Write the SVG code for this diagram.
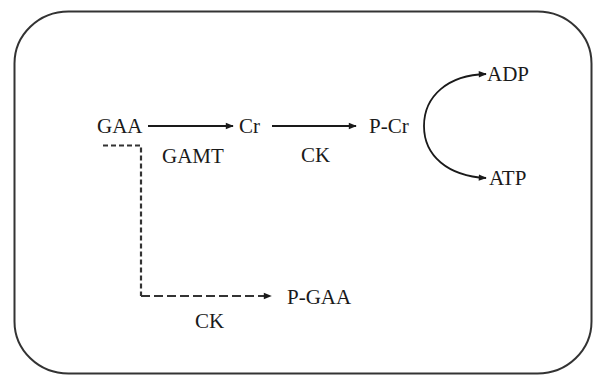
<svg xmlns="http://www.w3.org/2000/svg" width="600" height="375" viewBox="0 0 600 375">
  <style>
    .lbl { font-family: "Liberation Serif", "Times New Roman", serif; font-size: 21px; fill: #1a1a1a; }
    .line { fill: none; stroke: #1a1a1a; stroke-width: 1.8; }
    .dash { fill: none; stroke: #333; stroke-width: 2.2; }
  </style>
  <defs>
    <marker id="arrow" viewBox="0 0 10 10" refX="9" refY="5" markerWidth="10" markerHeight="8" markerUnits="userSpaceOnUse" orient="auto">
      <path d="M0,1 L10,5 L0,9 z" fill="#1a1a1a"/>
    </marker>
  </defs>
  <rect width="600" height="375" fill="#fff"/>
  <!-- cell boundary -->
  <rect x="14.5" y="11.5" width="577" height="362" rx="54" ry="52" fill="none" stroke="#333" stroke-width="2"/>

  <g id="GAA"><text class="lbl" x="97" y="133">GAA</text></g>
  <g id="Cr"><text class="lbl" x="239" y="133">Cr</text></g>
  <g id="PCr"><text class="lbl" x="369" y="133">P-Cr</text></g>
  <g id="ADP"><text class="lbl" x="487" y="81">ADP</text></g>
  <g id="ATP"><text class="lbl" x="489" y="185">ATP</text></g>
  <g id="PGAA"><text class="lbl" x="287" y="304">P-GAA</text></g>
  <g id="GAMT"><text class="lbl" x="162" y="163">GAMT</text></g>
  <g id="CK1"><text class="lbl" x="301" y="162">CK</text></g>
  <g id="CK2"><text class="lbl" x="195" y="328">CK</text></g>

  <g id="connectors">
    <line class="line" x1="148" y1="126" x2="233" y2="126" marker-end="url(#arrow)"/>
    <line class="line" x1="272" y1="126" x2="356" y2="126" marker-end="url(#arrow)"/>
    <!-- coupled ADP / ATP arc, split at its leftmost point -->
    <path class="line" d="M424,126 C424,96 448,75 486,74" marker-end="url(#arrow)"/>
    <path class="line" d="M424,126 C424,156 448,176 486,178" marker-end="url(#arrow)"/>
    <path class="dash" d="M103,145.5 H141 V296" stroke-dasharray="5 3"/>
    <path class="dash" d="M141,296 H271" stroke-dasharray="9 4" marker-end="url(#arrow)"/>
  </g>
</svg>
